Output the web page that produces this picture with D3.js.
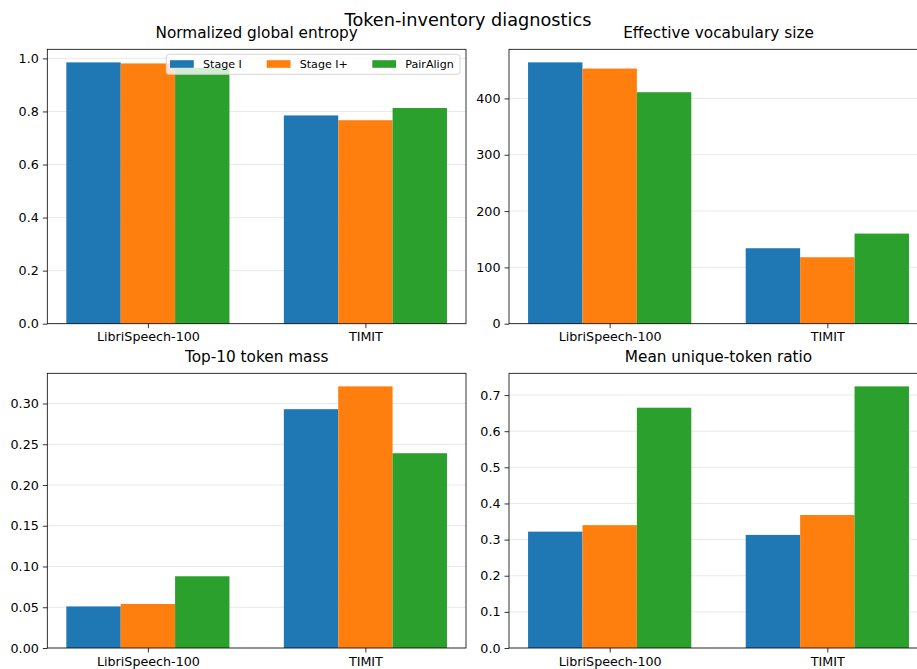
<!DOCTYPE html>
<html>
<head>
<meta charset="utf-8">
<script src="https://cdn.jsdelivr.net/npm/d3@7"></script>
<style>
html,body{margin:0;padding:0;background:#fff;overflow:hidden;}
svg{display:block;font-family:"DejaVu Sans",sans-serif;}
</style>
</head>
<body>
<svg id="chart" width="917" height="669"></svg>
<script>
const categories = ["LibriSpeech-100", "TIMIT"];
const seriesNames = ["Stage I", "Stage I+", "PairAlign"];
const seriesColors = ["#1f77b4", "#ff7f0e", "#2ca02c"];

const entropyValues = [[0.985, 0.785], [0.981, 0.767], [0.965, 0.813]];
const vocabValues = [[464, 134], [453, 118], [411, 160]];
const top10Values = [[0.051, 0.293], [0.054, 0.321], [0.088, 0.239]];
const uniqueValues = [[0.322, 0.313], [0.340, 0.368], [0.665, 0.724]];

const entropyTicks = [0.0, 0.2, 0.4, 0.6, 0.8, 1.0];
const vocabTicks = [0, 100, 200, 300, 400];
const top10Ticks = [0.00, 0.05, 0.10, 0.15, 0.20, 0.25, 0.30];
const uniqueTicks = [0.0, 0.1, 0.2, 0.3, 0.4, 0.5, 0.6, 0.7];

const panels = [
  {title: "Normalized global entropy", values: entropyValues, ticks: entropyTicks, fmt: d3.format(".1f"), box: [47.3, 466, 49.3, 323.7], legend: true},
  {title: "Effective vocabulary size", values: vocabValues, ticks: vocabTicks, fmt: d3.format("d"), box: [509, 928, 49.3, 323.7]},
  {title: "Top-10 token mass", values: top10Values, ticks: top10Ticks, fmt: d3.format(".2f"), box: [47.3, 466, 373.3, 648]},
  {title: "Mean unique-token ratio", values: uniqueValues, ticks: uniqueTicks, fmt: d3.format(".1f"), box: [509, 928, 373.3, 648]}
];

const svg = d3.select("#chart");
const barW = 0.25;

svg.append("text")
  .attr("x", 468).attr("y", 26)
  .attr("text-anchor", "middle")
  .attr("font-size", 17.7)
  .attr("fill", "#000")
  .text("Token-inventory diagnostics");

panels.forEach(p => {
  const [x0, x1, y0, y1] = p.box;
  const nS = p.values.length;
  const lo = -0.375, hi = (categories.length - 1) + 0.375;
  const m = (hi - lo) * 0.05;
  const x = d3.scaleLinear().domain([lo - m, hi + m]).range([x0, x1]);
  const ymax = d3.max(p.values.flat()) * 1.05;
  const y = d3.scaleLinear().domain([0, ymax]).range([y1, y0]);

  const g = svg.append("g");

  // grid
  g.append("g").selectAll("line").data(p.ticks).join("line")
    .attr("x1", x0).attr("x2", x1)
    .attr("y1", d => y(d)).attr("y2", d => y(d))
    .attr("stroke", "#e6e6e6").attr("stroke-width", 0.9);

  // bars
  p.values.forEach((vals, s) => {
    g.append("g").selectAll("rect").data(vals).join("rect")
      .attr("x", (d, i) => x(i + (s - (nS - 1) / 2) * barW - barW / 2))
      .attr("width", (d, i) => x(barW) - x(0))
      .attr("y", d => y(d))
      .attr("height", d => y(0) - y(d))
      .attr("fill", seriesColors[s]);
  });

  // y axis
  const yAxis = d3.axisLeft(y).tickValues(p.ticks).tickFormat(p.fmt).tickSize(4.5).tickPadding(4);
  const ya = g.append("g").attr("transform", `translate(${x0},0)`).call(yAxis);
  ya.select(".domain").remove();
  ya.selectAll("text").attr("font-size", 12.7).attr("font-family", "DejaVu Sans").attr("fill", "#000");
  ya.selectAll("line").attr("stroke", "#000").attr("stroke-width", 0.8);

  // x axis
  const xAxis = d3.axisBottom(x).tickValues(categories.map((c, i) => i)).tickFormat(i => categories[i]).tickSize(4.5).tickPadding(4);
  const xa = g.append("g").attr("transform", `translate(0,${y1})`).call(xAxis);
  xa.select(".domain").remove();
  xa.selectAll("text").attr("font-size", 12.7).attr("font-family", "DejaVu Sans").attr("fill", "#000");
  xa.selectAll("line").attr("stroke", "#000").attr("stroke-width", 0.8);

  // frame
  g.append("rect").attr("x", x0).attr("y", y0).attr("width", x1 - x0).attr("height", y1 - y0)
    .attr("fill", "none").attr("stroke", "#000").attr("stroke-width", 0.8);

  // title
  g.append("text").attr("x", (x0 + x1) / 2).attr("y", y0 - 11.4)
    .attr("text-anchor", "middle").attr("font-size", 15.3).attr("fill", "#000")
    .text(p.title);

  if (p.legend) {
    const lg = svg.append("g");
    lg.append("rect").attr("x", 166.3).attr("y", 54.3).attr("width", 293.7).attr("height", 20)
      .attr("rx", 2.5).attr("fill", "#fff").attr("fill-opacity", 0.8)
      .attr("stroke", "#d0d0d0").attr("stroke-width", 0.9);
    const hx = [170, 266.7, 372.3];
    seriesNames.forEach((n, s) => {
      lg.append("rect").attr("x", hx[s]).attr("y", 60.2).attr("width", 23.8).attr("height", 7.6)
        .attr("fill", seriesColors[s]);
      lg.append("text").attr("x", hx[s] + 33).attr("y", 68)
        .attr("font-size", 11.1).attr("fill", "#000").text(n);
    });
  }
});
</script>
</body>
</html>
